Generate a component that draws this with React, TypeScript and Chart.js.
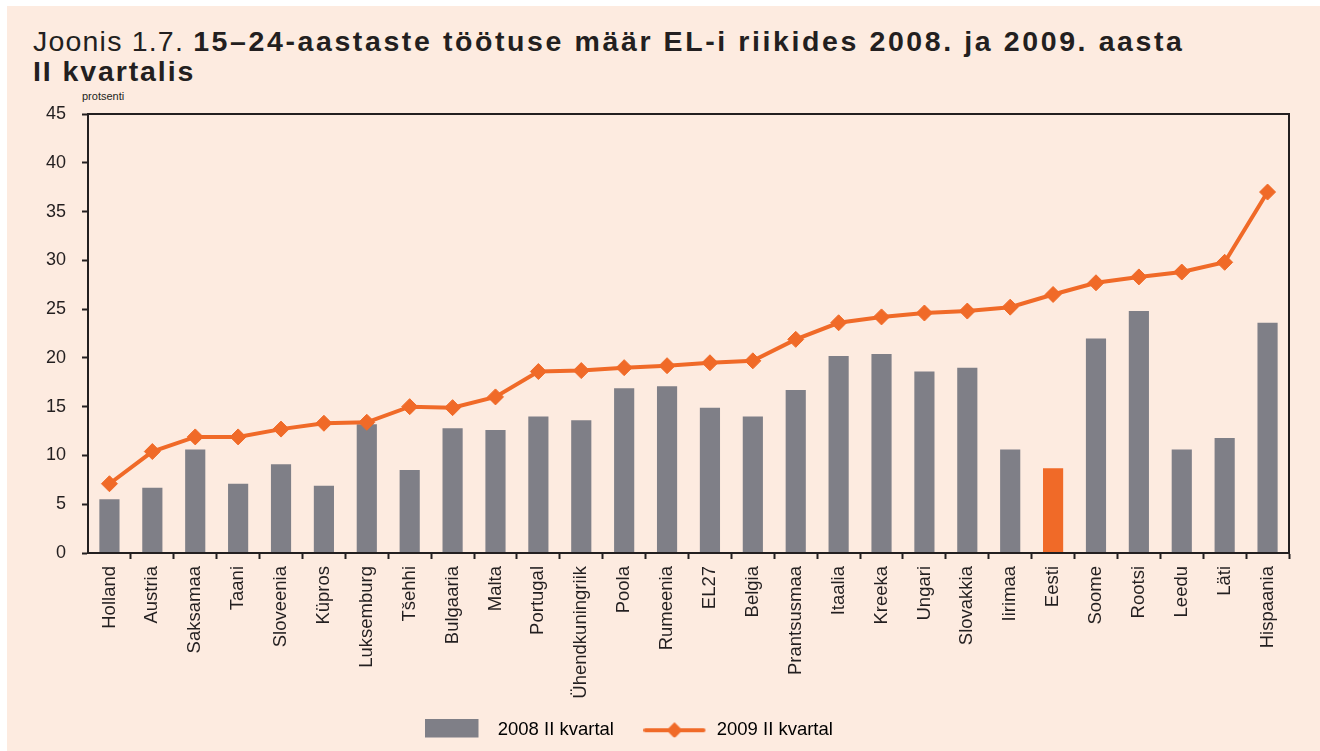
import React, { useEffect, useRef } from "react";
import { Chart, registerables } from "chart.js";

Chart.register(...registerables);

const categories = [
  "Holland", "Austria", "Saksamaa", "Taani", "Sloveenia", "Küpros", "Luksemburg",
  "Tšehhi", "Bulgaaria", "Malta", "Portugal", "Ühendkuningriik", "Poola", "Rumeenia",
  "EL27", "Belgia", "Prantsusmaa", "Itaalia", "Kreeka", "Ungari", "Slovakkia",
  "Iirimaa", "Eesti", "Soome", "Rootsi", "Leedu", "Läti", "Hispaania",
];

const q2_2008 = [
  5.5, 6.7, 10.6, 7.1, 9.1, 6.9, 13.2, 8.5, 12.8, 12.6, 14.0, 13.6, 16.9, 17.1,
  14.9, 14.0, 16.7, 20.2, 20.4, 18.6, 19.0, 10.6, 8.7, 22.0, 24.8, 10.6, 11.8, 23.6,
];

const q2_2009 = [
  7.1, 10.4, 11.9, 11.9, 12.7, 13.3, 13.4, 15.0, 14.9, 16.0, 18.6, 18.7, 19.0, 19.2,
  19.5, 19.7, 21.9, 23.6, 24.2, 24.6, 24.8, 25.2, 26.5, 27.7, 28.3, 28.8, 29.8, 37.0,
];

const seriesLabels = ["2008 II kvartal", "2009 II kvartal"];
const highlighted = "Eesti";
const yTicks = { min: 0, max: 45, step: 5 };

const GRAY = "#7f7f87";
const ORANGE = "#f06a28";
const INK = "#231f20";
const BG = "#fdebe0";
const FONT = '"Liberation Sans", Arial, Helvetica, sans-serif';

const CW = 1313;
const CH = 745;

function makeBoxImg() {
  const c = document.createElement("canvas");
  c.width = 64;
  c.height = 23;
  const g = c.getContext("2d")!;
  g.fillStyle = GRAY;
  g.fillRect(0, 0, 54, 23);
  return c;
}

function makeLineImg() {
  const c = document.createElement("canvas");
  c.width = 64;
  c.height = 18;
  const g = c.getContext("2d")!;
  g.strokeStyle = ORANGE;
  g.lineWidth = 4;
  g.lineCap = "round";
  g.beginPath();
  g.moveTo(2, 9);
  g.lineTo(60, 9);
  g.stroke();
  g.fillStyle = ORANGE;
  g.beginPath();
  g.moveTo(31 - 8, 9);
  g.lineTo(31, 1);
  g.lineTo(31 + 8, 9);
  g.lineTo(31, 17);
  g.closePath();
  g.fill();
  return c;
}

const framePlugin = {
  id: "frame",
  beforeDraw(chart: any) {
    if (chart.legend) {
      const w = chart.legend.right - chart.legend.left;
      const h = chart.legend.bottom - chart.legend.top;
      chart.legend.left = 388;
      chart.legend.right = 388 + w;
      chart.legend.top = 685.5;
      chart.legend.bottom = 685.5 + h;
    }
  },
  afterDraw(chart: any) {
    const { ctx, chartArea } = chart;
    ctx.save();
    ctx.strokeStyle = INK;
    ctx.lineWidth = 2;
    ctx.strokeRect(chartArea.left, chartArea.top, chartArea.right - chartArea.left, chartArea.bottom - chartArea.top);
    ctx.restore();
  },
};

export default function App() {
  const ref = useRef<HTMLCanvasElement | null>(null);

  useEffect(() => {
    if (!ref.current) return;
    const boxImg = makeBoxImg();
    const lineImg = makeLineImg();
    const n = categories.length;
    const chart = new Chart(ref.current, {
      type: "bar",
      data: {
        labels: categories,
        datasets: [
          {
            type: "bar",
            label: seriesLabels[0],
            data: q2_2008,
            backgroundColor: categories.map((c) => (c === highlighted ? ORANGE : GRAY)),
            barPercentage: 0.47,
            categoryPercentage: 1,
            order: 2,
          } as any,
          {
            type: "line",
            label: seriesLabels[1],
            data: q2_2009,
            borderColor: ORANGE,
            borderWidth: 4,
            tension: 0,
            pointStyle: "rectRot",
            pointRadius: 8,
            pointBorderWidth: 1,
            pointBackgroundColor: ORANGE,
            pointBorderColor: ORANGE,
            order: 1,
          } as any,
        ],
      },
      options: {
        responsive: false,
        animation: false,
        devicePixelRatio: 1,
        layout: { padding: { top: 108, right: 31, bottom: 0, left: 0 } },
        plugins: {
          tooltip: { enabled: false },
          title: { display: false },
          legend: {
            display: true,
            position: "bottom",
            align: "start",
            maxHeight: 46,
            labels: {
              usePointStyle: true,
              pointStyleWidth: 64,
              padding: 29.5,
              color: INK,
              font: { family: FONT, size: 18.5 },
              generateLabels: () => [
                { text: seriesLabels[0], pointStyle: boxImg, fillStyle: GRAY, strokeStyle: GRAY, lineWidth: 0, hidden: false, datasetIndex: 0 },
                { text: seriesLabels[1], pointStyle: lineImg, fillStyle: ORANGE, strokeStyle: ORANGE, lineWidth: 0, hidden: false, datasetIndex: 1 },
              ] as any,
            },
          },
        },
        scales: {
          x: {
            offset: true,
            grid: {
              display: true,
              offset: true,
              drawOnChartArea: false,
              drawTicks: true,
              tickLength: 6,
              tickWidth: 2,
              tickColor: (ctx: any) => (ctx.index === 0 || ctx.index === n ? "rgba(0,0,0,0)" : INK),
            },
            border: { display: true, color: INK, width: 2 },
            ticks: {
              autoSkip: false,
              minRotation: 90,
              maxRotation: 90,
              padding: 7,
              color: INK,
              font: { family: FONT, size: 18.5 },
            },
            afterFit: (s: any) => {
              s.height = 152;
            },
          },
          y: {
            min: yTicks.min,
            max: yTicks.max,
            grid: {
              display: true,
              drawOnChartArea: false,
              drawTicks: true,
              tickLength: 6,
              tickWidth: 2,
              tickColor: INK,
            },
            border: { display: true, color: INK, width: 2 },
            ticks: {
              stepSize: yTicks.step,
              padding: 16,
              color: INK,
              font: { family: FONT, size: 18 },
            },
            afterFit: (s: any) => {
              s.width = 81;
            },
          },
        },
      } as any,
      plugins: [framePlugin],
    });
    return () => chart.destroy();
  }, []);

  return (
    <div style={{ position: "absolute", left: 0, top: 0, width: 1320, height: 751, background: "#ffffff", overflow: "hidden" }}>
      <div style={{ position: "absolute", left: 7, top: 6, width: CW, height: CH, background: BG }} />
      <div
        style={{
          position: "absolute",
          left: 33,
          top: 26,
          fontFamily: FONT,
          fontSize: 28.5,
          lineHeight: "30px",
          color: INK,
          whiteSpace: "nowrap",
        }}
      >
        <div>
          <span style={{ letterSpacing: "1.2px" }}>Joonis 1.7. </span>
          <b style={{ letterSpacing: "2.6px" }}>15–24-aastaste töötuse määr EL-i riikides 2008. ja 2009. aasta</b>
        </div>
        <div>
          <b style={{ letterSpacing: "1.9px" }}>II kvartalis</b>
        </div>
      </div>
      <div
        style={{
          position: "absolute",
          left: 82,
          top: 90,
          fontFamily: FONT,
          fontSize: 11,
          color: INK,
        }}
      >
        protsenti
      </div>
      <canvas
        ref={ref}
        width={CW}
        height={CH}
        style={{ position: "absolute", left: 7, top: 6, width: CW, height: CH }}
      />
    </div>
  );
}
